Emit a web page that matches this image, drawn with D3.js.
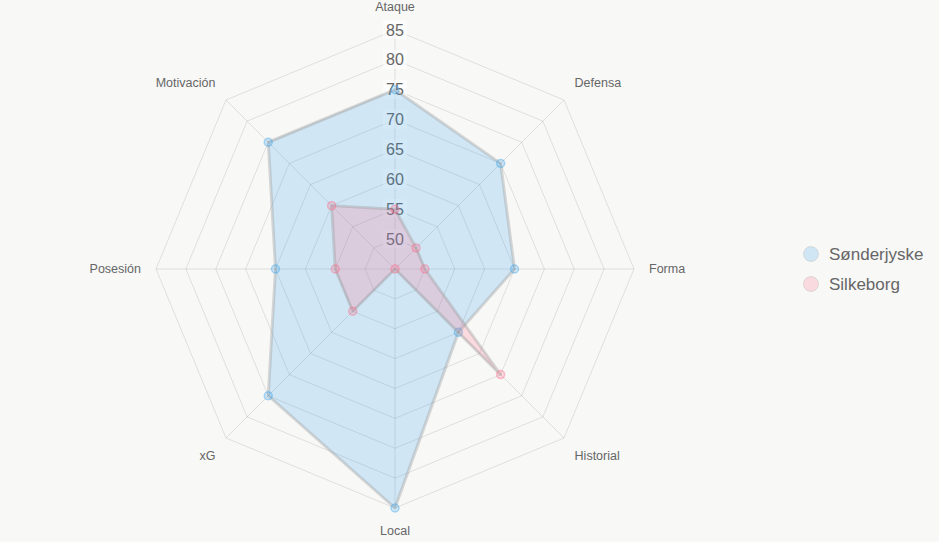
<!DOCTYPE html>
<html>
<head>
    <meta charset="utf-8">
    <script src="https://cdn.jsdelivr.net/npm/d3@7"></script>
    <style>
        * { margin: 0; padding: 0; }
        body { background: #f8f8f7; }
        svg { display: block; font-family: "Liberation Sans", Arial, sans-serif; }
    </style>
</head>
<body>
<svg id="radar" width="939" height="542"></svg>
<script>
    var axesNames = ["Ataque", "Defensa", "Forma", "Historial", "Local", "xG", "Posesión", "Motivación"];
    var sonderjyske = [75, 70, 65, 60, 85, 75, 65, 75];
    var silkeborg = [55, 50, 50, 70, 45, 55, 55, 60];
    var tickValues = [50, 55, 60, 65, 70, 75, 80, 85];
    var seriesNames = ["Sønderjyske", "Silkeborg"];

    var series = [
        { name: seriesNames[0], values: sonderjyske, fill: "rgba(54,162,235,0.2)", point: "rgba(54,162,235,0.4)" },
        { name: seriesNames[1], values: silkeborg, fill: "rgba(255,99,132,0.2)", point: "rgba(255,99,132,0.4)" }
    ];

    var cx = 395, cy = 269, R = 239;
    var svg = d3.select("#radar");
    var g = svg.append("g").attr("transform", "translate(" + cx + "," + cy + ")");

    var r = d3.scaleLinear().domain([45, 85]).range([0, R]);
    var angle = d3.scalePoint().domain(axesNames).range([0, 2 * Math.PI * 7 / 8]);

    function pos(name, v) {
        var a = angle(name);
        return [Math.sin(a) * r(v), -Math.cos(a) * r(v)];
    }

    // grid rings
    tickValues.forEach(function (t) {
        g.append("polygon")
            .attr("points", axesNames.map(function (n) { return pos(n, t).join(","); }).join(" "))
            .attr("fill", "none")
            .attr("stroke", "rgba(0,0,0,0.1)")
            .attr("stroke-width", 1);
    });

    // angle lines
    axesNames.forEach(function (n) {
        var p = pos(n, 85);
        g.append("line")
            .attr("x1", 0).attr("y1", 0)
            .attr("x2", p[0]).attr("y2", p[1])
            .attr("stroke", "rgba(0,0,0,0.1)")
            .attr("stroke-width", 1);
    });

    // point labels
    axesNames.forEach(function (n) {
        var a = angle(n);
        var d = R + 15;
        var x = Math.sin(a) * d, y = -Math.cos(a) * d;
        var anchor = Math.abs(x) < 1 ? "middle" : (x > 0 ? "start" : "end");
        var dy;
        if (Math.abs(y) < 1) dy = "0.35em";
        else if (y < 0) dy = "-0.2em";
        else dy = "0.95em";
        if (Math.abs(x) < 1 && y < 0) dy = "-0.3em";
        g.append("text")
            .attr("x", x).attr("y", y)
            .attr("dy", dy)
            .attr("text-anchor", anchor)
            .attr("font-size", "12.5px")
            .attr("fill", "#666")
            .text(n);
    });

    // tick labels with backdrop
    var ticks = g.append("g");
    tickValues.forEach(function (t) {
        var y = -r(t);
        ticks.append("rect")
            .attr("x", -12).attr("y", y - 10)
            .attr("width", 24).attr("height", 19)
            .attr("fill", "rgba(255,255,255,0.6)");
        ticks.append("text")
            .attr("x", 0).attr("y", y)
            .attr("dy", "0.35em")
            .attr("text-anchor", "middle")
            .attr("font-size", "16px")
            .attr("fill", "#666")
            .text(t);
    });

    // datasets
    var line = d3.line();
    series.forEach(function (s) {
        var pts = axesNames.map(function (n, i) { return pos(n, s.values[i]); });
        g.append("path")
            .attr("d", line(pts) + "Z")
            .attr("fill", s.fill)
            .attr("stroke", "rgba(150,150,150,0.35)")
            .attr("stroke-width", 3)
            .attr("stroke-linejoin", "round");
        g.selectAll(null).data(pts).enter().append("circle")
            .attr("cx", function (p) { return p[0]; })
            .attr("cy", function (p) { return p[1]; })
            .attr("r", 4)
            .attr("fill", s.fill)
            .attr("stroke", s.point)
            .attr("stroke-width", 1.5);
    });

    // legend
    var legend = svg.append("g").attr("transform", "translate(811,254)");
    series.forEach(function (s, i) {
        var item = legend.append("g").attr("transform", "translate(0," + (i * 30) + ")");
        item.append("circle")
            .attr("r", 7.5)
            .attr("fill", s.fill)
            .attr("stroke", "rgba(150,150,150,0.25)")
            .attr("stroke-width", 1);
        item.append("text")
            .attr("x", 18).attr("dy", "0.35em")
            .attr("font-size", "17px")
            .attr("fill", "#666")
            .text(s.name);
    });
</script>
</body>
</html>
